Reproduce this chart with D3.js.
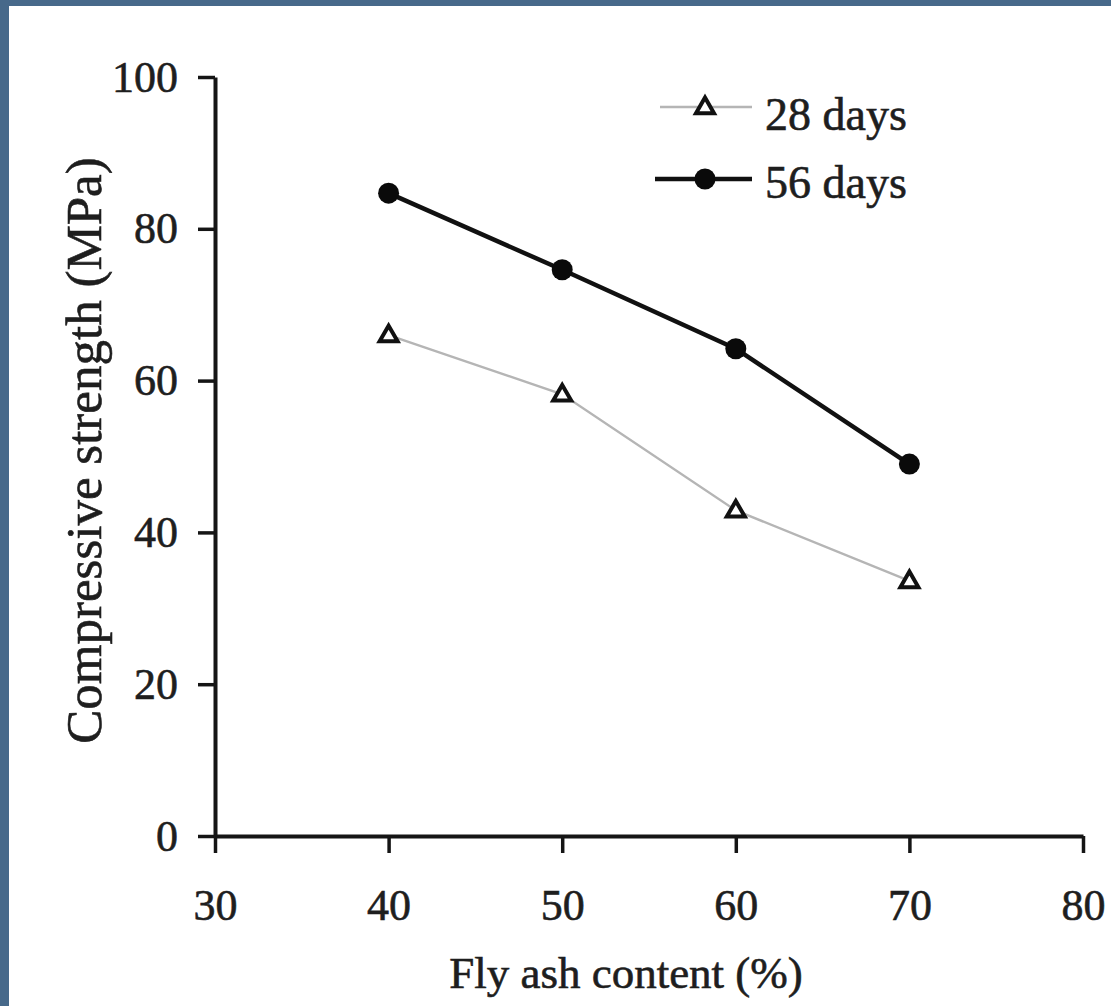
<!DOCTYPE html>
<html>
<head>
<meta charset="utf-8">
<script src="https://cdn.jsdelivr.net/npm/d3@7"></script>
<style>
  html, body { margin: 0; padding: 0; background: #fff; }
  svg { display: block; font-family: "Liberation Serif", "Times New Roman", serif; }
</style>
</head>
<body>
<div id="chart"></div>
<script>
const flyAsh = [40, 50, 60, 70]
const days28 = [66, 58.2, 42.9, 33.6]
const days56 = [84.7, 74.6, 64.2, 49]
const xTicks = [30, 40, 50, 60, 70, 80]
const yTicks = [0, 20, 40, 60, 80, 100]
const seriesNames = ["28 days", "56 days"]

const width = 1111
const height = 1006
const margin = ({top: 77, right: 28, bottom: 170, left: 215}) // plot box edges

const svg = d3.select("#chart").append("svg")
  .attr("width", width)
  .attr("height", height)
  .attr("viewBox", [0, 0, width, height])

svg.append("rect").attr("width", width).attr("height", height).attr("fill", "#fff")
// frame strips from the scanned page
svg.append("rect").attr("width", width).attr("height", 6).attr("fill", "#47698a")
svg.append("rect").attr("width", 9).attr("height", height).attr("fill", "#47698a")

const x = d3.scaleLinear()
  .domain([30, 80])
  .range([margin.left, width - margin.right])

const y = d3.scaleLinear()
  .domain([0, 100])
  .range([height - margin.bottom, margin.top])

const axisColor = "#151515"
const textColor = "#1e1e1e"

// slight stroke on text to mimic the heavier scanned print
const inkText = t => t.attr("fill", textColor).attr("stroke", textColor).attr("stroke-width", 0.6)

const xAxis = g => g
  .attr("transform", `translate(0,${y(0)})`)
  .call(d3.axisBottom(x).tickValues(xTicks).tickSize(17).tickSizeOuter(0).tickPadding(36))
  .call(g => g.select(".domain").attr("stroke", axisColor).attr("stroke-width", 4))
  .call(g => g.selectAll(".tick line").attr("stroke", axisColor).attr("stroke-width", 3.5))
  .call(g => g.selectAll(".tick text").attr("font-size", 44)
    .attr("font-family", "Liberation Serif").call(inkText))

const yAxis = g => g
  .attr("transform", `translate(${x(30)},0)`)
  .call(d3.axisLeft(y).tickValues(yTicks).tickSize(17).tickSizeOuter(0).tickPadding(20))
  .call(g => g.select(".domain").attr("stroke", axisColor).attr("stroke-width", 4))
  .call(g => g.selectAll(".tick line").attr("stroke", axisColor).attr("stroke-width", 3.5))
  .call(g => g.selectAll(".tick text").attr("font-size", 44)
    .attr("font-family", "Liberation Serif").call(inkText))

svg.append("g").call(xAxis)
svg.append("g").call(yAxis)

// axis titles
svg.append("text")
  .attr("x", 626)
  .attr("y", 988)
  .attr("text-anchor", "middle")
  .attr("font-size", 45)
  .call(inkText)
  .text("Fly ash content (%)")

svg.append("text")
  .attr("transform", `translate(101,${(y(0) + y(100)) / 2 - 6}) rotate(-90)`)
  .attr("text-anchor", "middle")
  .attr("font-size", 51)
  .call(inkText)
  .text("Compressive strength (MPa)")

const line = d3.line()
  .x(d => x(d[0]))
  .y(d => y(d[1]))

const pts28 = flyAsh.map((v, i) => [v, days28[i]])
const pts56 = flyAsh.map((v, i) => [v, days56[i]])

const triangle = d3.symbol().type(d3.symbolTriangle).size(140)

// 28 days
svg.append("path")
  .datum(pts28)
  .attr("fill", "none")
  .attr("stroke", "#b5b5b5")
  .attr("stroke-width", 2.4)
  .attr("d", line)

svg.append("g").selectAll("path")
  .data(pts28)
  .join("path")
  .attr("transform", d => `translate(${x(d[0])},${y(d[1]) + 1})`)
  .attr("d", triangle)
  .attr("fill", "#fff")
  .attr("stroke", "#111")
  .attr("stroke-width", 4)

// 56 days
svg.append("path")
  .datum(pts56)
  .attr("fill", "none")
  .attr("stroke", "#111")
  .attr("stroke-width", 4.5)
  .attr("d", line)

svg.append("g").selectAll("circle")
  .data(pts56)
  .join("circle")
  .attr("cx", d => x(d[0]))
  .attr("cy", d => y(d[1]))
  .attr("r", 10.5)
  .attr("fill", "#0a0a0a")

// legend
const legend = svg.append("g")

legend.append("line")
  .attr("x1", 660).attr("x2", 752)
  .attr("y1", 107).attr("y2", 107)
  .attr("stroke", "#b5b5b5").attr("stroke-width", 2.4)
legend.append("path")
  .attr("transform", "translate(705,108)")
  .attr("d", triangle)
  .attr("fill", "#fff")
  .attr("stroke", "#111")
  .attr("stroke-width", 4)

legend.append("line")
  .attr("x1", 655).attr("x2", 752)
  .attr("y1", 179).attr("y2", 179)
  .attr("stroke", "#111").attr("stroke-width", 4.5)
legend.append("circle")
  .attr("cx", 705).attr("cy", 179).attr("r", 10.5)
  .attr("fill", "#0a0a0a")

legend.selectAll("text")
  .data(seriesNames)
  .join("text")
  .attr("x", 765)
  .attr("y", (d, i) => 130 + i * 68)
  .attr("font-size", 46)
  .call(inkText)
  .text(d => d)
</script>
</body>
</html>
